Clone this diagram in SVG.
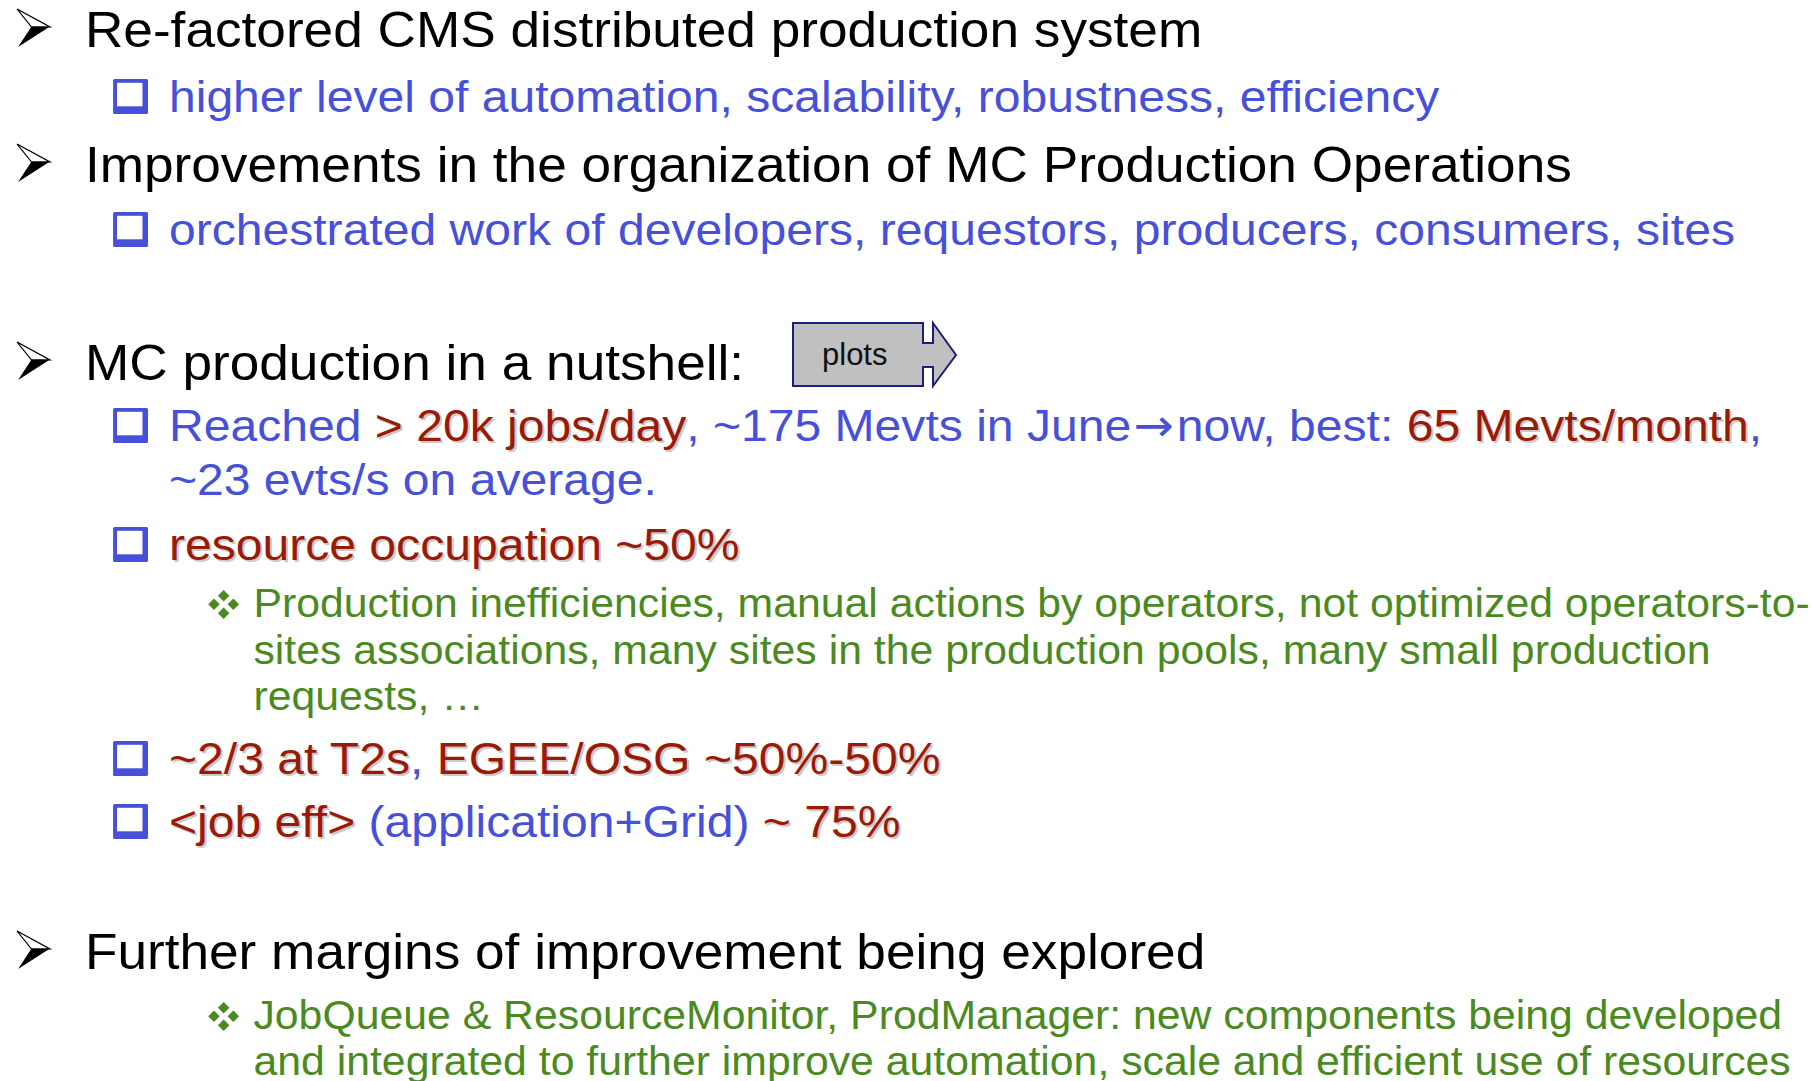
<svg xmlns="http://www.w3.org/2000/svg" width="1814" height="1081" viewBox="0 0 1814 1081">
  <defs>
    <style>
      text { font-family: "Liberation Sans", Arial, Helvetica, sans-serif; }
      .lv1 { font-size: 50px; fill: #000000; }
      .lv2 { font-size: 45.2px; }
      .lv3 { font-size: 40.2px; fill: #4a8a1f; }
      .b { fill: #4650d8; }
      .r { fill: #9a1a08; }
      .arw { font-family: "DejaVu Sans", sans-serif; font-size: 1em; }
      .shadow .r { fill: #cacaca; }
      .shadow .b { fill: none; }
      .sq-out { fill: #4650d8; }
      .sq-in { fill: #ffffff; }
      .dia { fill: #4a8a1f; }
      .btn { fill: #c0c0c0; stroke: #1c1f7a; stroke-width: 2; stroke-linejoin: miter; }
      .btn-label { font-size: 31px; fill: #111111; }
    </style>
    <!-- level 1 bullet: 3D arrowhead, origin on the baseline -->
    <g id="arrow">
      <polygon points="16,-38 47,-20 29.6,-20" fill="#ffffff" stroke="#000000" stroke-width="1.2" stroke-linejoin="miter"/>
      <polygon points="29.6,-20.6 47,-20.6 17,0" fill="#000000"/>
    </g>
    <!-- level 2 bullet: shadowed square -->
    <g id="square">
      <rect class="sq-out" x="106.3" y="-33" width="32.8" height="35" rx="1.5"/>
      <rect class="sq-in" x="110" y="-29.2" width="23.9" height="23.5"/>
    </g>
    <!-- level 3 bullet: four diamonds -->
    <path id="diamond" class="dia" d="M210.2,-27 l5.4,5.7 l-5.4,5.7 l-5.4,-5.7 z M201.1,-18.4 l5.4,5.7 l-5.4,5.7 l-5.4,-5.7 z M219.3,-18.4 l5.4,5.7 l-5.4,5.7 l-5.4,-5.7 z M210.2,-9.4 l5.4,5.7 l-5.4,5.7 l-5.4,-5.7 z"/>
  </defs>

  <rect x="0" y="0" width="1814" height="1081" fill="#ffffff"/>

  <!-- slide body, set in a slightly widened frame -->
  <g transform="scale(1.064 1)">
    <g id="item-refactored">
      <use href="#arrow" y="47"/>
      <text class="lv1" x="79.8" y="47">Re-factored CMS distributed production system</text>
    </g>
    <g id="item-automation">
      <use href="#square" y="112"/>
      <text class="lv2 b" x="158.8" y="112">higher level of automation, scalability, robustness, efficiency</text>
    </g>
    <g id="item-organization">
      <use href="#arrow" y="182"/>
      <text class="lv1" x="79.8" y="182">Improvements in the organization of MC Production Operations</text>
    </g>
    <g id="item-orchestrated">
      <use href="#square" y="245"/>
      <text class="lv2 b" x="158.8" y="245">orchestrated work of developers, requestors, producers, consumers, sites</text>
    </g>
    <g id="item-nutshell">
      <use href="#arrow" y="380"/>
      <text class="lv1" x="79.8" y="380">MC production in a nutshell:</text>
    </g>
    <g id="item-reached">
      <use href="#square" y="441"/>
      <text class="lv2 shadow" x="160.7" y="443"><tspan class="b">Reached </tspan><tspan class="r">&gt; 20k jobs/day</tspan><tspan class="b">, ~175 Mevts in June<tspan class="arw" dx="2">→</tspan><tspan dx="3">now, best: </tspan></tspan><tspan class="r">65 Mevts/month</tspan><tspan class="b">,</tspan></text>
      <text class="lv2" x="158.8" y="441"><tspan class="b">Reached </tspan><tspan class="r">&gt; 20k jobs/day</tspan><tspan class="b">, ~175 Mevts in June<tspan class="arw" dx="2">→</tspan><tspan dx="3">now, best: </tspan></tspan><tspan class="r">65 Mevts/month</tspan><tspan class="b">,</tspan></text>
      <text class="lv2 b" x="158.8" y="495">~23 evts/s on average.</text>
    </g>
    <g id="item-occupation">
      <use href="#square" y="560"/>
      <text class="lv2 shadow" x="160.7" y="562"><tspan class="r">resource occupation ~50%</tspan></text>
      <text class="lv2 r" x="158.8" y="560">resource occupation ~50%</text>
    </g>
    <g id="item-inefficiencies">
      <use href="#diamond" y="617"/>
      <text class="lv3" x="238.2" y="617">Production inefficiencies, manual actions by operators, not optimized operators-to-</text>
      <text class="lv3" x="238.2" y="664">sites associations, many sites in the production pools, many small production</text>
      <text class="lv3" x="238.2" y="710">requests, …</text>
    </g>
    <g id="item-t2s">
      <use href="#square" y="774"/>
      <text class="lv2 shadow" x="160.7" y="776"><tspan class="r">~2/3 at T2s</tspan><tspan class="b">,</tspan><tspan class="r"> EGEE/OSG ~50%-50%</tspan></text>
      <text class="lv2" x="158.8" y="774"><tspan class="r">~2/3 at T2s</tspan><tspan class="b">,</tspan><tspan class="r"> EGEE/OSG ~50%-50%</tspan></text>
    </g>
    <g id="item-jobeff">
      <use href="#square" y="837"/>
      <text class="lv2 shadow" x="160.7" y="839"><tspan class="r">&lt;job eff&gt;</tspan><tspan class="b"> (application+Grid)</tspan><tspan class="r"> ~ 75%</tspan></text>
      <text class="lv2" x="158.8" y="837"><tspan class="r">&lt;job eff&gt;</tspan><tspan class="b"> (application+Grid)</tspan><tspan class="r"> ~ 75%</tspan></text>
    </g>
    <g id="item-margins">
      <use href="#arrow" y="969"/>
      <text class="lv1" x="79.8" y="969">Further margins of improvement being explored</text>
    </g>
    <g id="item-components">
      <use href="#diamond" y="1029"/>
      <text class="lv3" x="238.2" y="1029">JobQueue &amp; ResourceMonitor, ProdManager: new components being developed</text>
      <text class="lv3" x="238.2" y="1075">and integrated to further improve automation, scale and efficient use of resources</text>
    </g>
  </g>

  <!-- "plots" action button -->
  <g id="plots-button">
    <path class="btn" d="M793,323 H923 V343 H933 V323 L956,355 L933,386 V367 H923 V386 H793 Z"/>
    <text class="btn-label" x="822" y="365">plots</text>
  </g>
</svg>
